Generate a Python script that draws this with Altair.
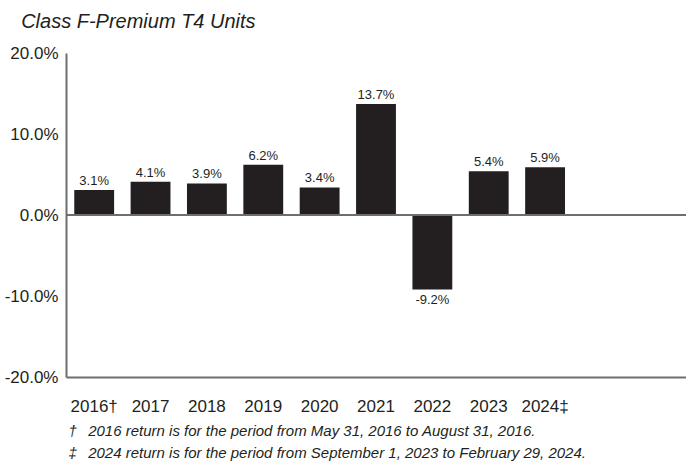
import altair as alt
import pandas as pd

years = ["2016", "2017", "2018", "2019", "2020", "2021", "2022", "2023", "2024"]
year_labels = ["2016\u2020", "2017", "2018", "2019", "2020", "2021", "2022", "2023", "2024\u2021"]
empty_slots = ["", " "]  # unused slots at the right end of the axis
returns = [3.1, 4.1, 3.9, 6.2, 3.4, 13.7, -9.2, 5.4, 5.9]
y_ticks = [-20, -10, 0, 10, 20]
title_text = "Class F-Premium T4 Units"
NB = "\u00a0"
footnotes = [
    "\u2020" + NB * 2 + "\u2009" + "2016 return is for the period from May 31, 2016 to August 31, 2016.",
    "\u2021" + NB * 2 + "\u2009" + "2024 return is for the period from September 1, 2023 to February 29, 2024.",
]

df = pd.DataFrame({"year": year_labels, "ret": returns})

FONT = "Liberation Sans"
TXT = "#231f20"
AX = "#6d6e71"

x_scale = alt.Scale(domain=year_labels + empty_slots, paddingInner=0.293, paddingOuter=0.1465)

x_enc = alt.X(
    "year:N",
    scale=x_scale,
    axis=alt.Axis(
        title=footnotes,
        titleFont=FONT,
        titleFontSize=15,
        titleFontStyle="italic",
        titleFontWeight="normal",
        titleColor=TXT,
        titleAlign="left",
        titleBaseline="alphabetic",
        titleX=2,
        titleY=58,
        titleLineHeight=22,
        labelAngle=0,
        labelFont=FONT,
        labelFontSize=17,
        labelColor=TXT,
        labelBaseline="alphabetic",
        labelPadding=34,
        ticks=False,
        domainColor=AX,
        domainWidth=2,
    ),
)

y_scale = alt.Scale(domain=[-20, 20], nice=False, zero=False)

base = alt.Chart(df)

bars = base.mark_bar(color=TXT, opacity=1).encode(
    x=x_enc,
    y=alt.Y(
        "ret:Q",
        scale=y_scale,
        axis=alt.Axis(
            title=None,
            values=y_ticks,
            labelExpr="replace(format(datum.value, '.1f'), '\u2212', '-') + '%'",
            labelFont=FONT,
            labelFontSize=17,
            labelColor=TXT,
            labelPadding=8,
            ticks=False,
            grid=False,
            domainColor=AX,
            domainWidth=2,
        ),
    ),
)

zero = base.mark_rule(color=AX, strokeWidth=2).encode(y=alt.datum(0))

lab_expr = "replace(format(datum.ret, '.1f'), '\u2212', '-') + '%'"

pos_text = base.transform_filter("datum.ret >= 0").transform_calculate(lab=lab_expr).mark_text(
    font=FONT, fontSize=13, color=TXT, baseline="alphabetic", dy=-5
).encode(x=alt.X("year:N", scale=x_scale), y=alt.Y("ret:Q", scale=y_scale), text="lab:N")

neg_text = base.transform_filter("datum.ret < 0").transform_calculate(lab=lab_expr).mark_text(
    font=FONT, fontSize=13, color=TXT, baseline="alphabetic", dy=14
).encode(x=alt.X("year:N", scale=x_scale), y=alt.Y("ret:Q", scale=y_scale), text="lab:N")

chart = alt.layer(bars, zero, pos_text, neg_text).properties(
    width=620,
    height=324,
    padding={"left": 66, "top": 53, "right": 0, "bottom": 87},
    autosize=alt.AutoSizeParams(type="none"),
    title=alt.Title(
        title_text,
        anchor="start",
        font=FONT,
        fontSize=20,
        fontStyle="italic",
        fontWeight="normal",
        color=TXT,
        dx=17,
        offset=12,
    ),
).configure_view(stroke=None)

chart.save("out.html", embed_options={"renderer": "svg", "actions": False})
